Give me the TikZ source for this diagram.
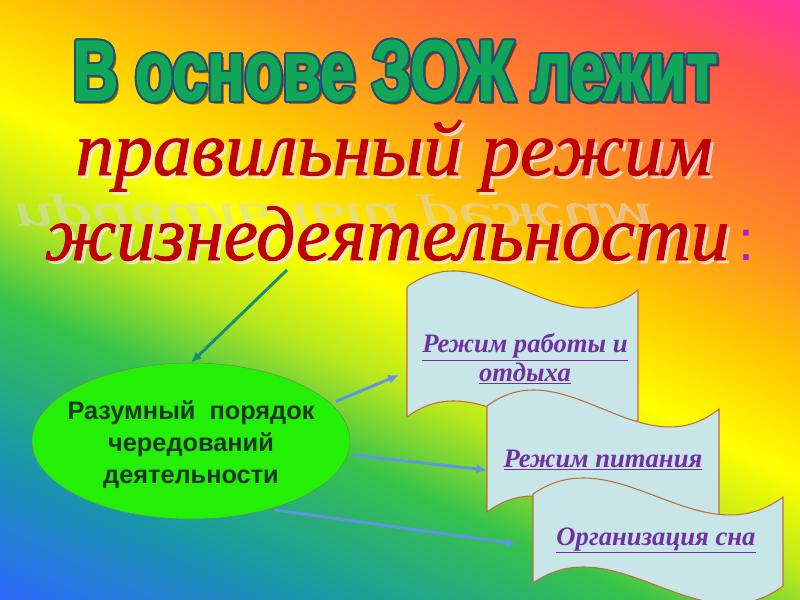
\documentclass[tikz,border=0pt]{standalone}
\usepackage{fontspec}
\setmainfont{Liberation Serif}
\newfontfamily\headfont{Liberation Sans}[FakeStretch=0.73,FakeBold=2]
\newfontfamily\rulefont{Liberation Serif}[FakeBold=1.2]
\newfontfamily\boxfont{Liberation Sans}
\usetikzlibrary{shapes.geometric,arrows.meta}

\definecolor{rbBlue}{RGB}{45,105,255}
\definecolor{rbTeal}{RGB}{25,150,170}
\definecolor{rbGreen}{RGB}{55,195,75}
\definecolor{rbLime}{RGB}{185,232,30}
\definecolor{rbYellow}{RGB}{255,255,0}
\definecolor{rbGold}{RGB}{255,200,0}
\definecolor{rbOrange}{RGB}{255,135,40}
\definecolor{rbRed}{RGB}{255,85,75}
\definecolor{rbPink}{RGB}{255,50,160}
\definecolor{headGreen}{RGB}{18,166,88}
\definecolor{headEdge}{RGB}{31,78,121}
\definecolor{ruleRed}{RGB}{192,0,0}
\definecolor{colonPurple}{RGB}{170,30,200}
\definecolor{ellGreen}{RGB}{35,240,5}
\definecolor{ellEdge}{RGB}{110,140,90}
\definecolor{ellText}{RGB}{25,55,40}
\definecolor{waveFill}{RGB}{200,230,232}
\definecolor{waveEdge}{RGB}{190,110,60}
\definecolor{wavePurple}{RGB}{112,48,160}
\definecolor{linkBlue}{RGB}{95,150,225}
\definecolor{linkTeal}{RGB}{25,140,120}

\pgfdeclarehorizontalshading{rainbow}{100bp}{color(0bp)=(rbBlue); color(25bp)=(rbBlue);
  color(32.5bp)=(rbTeal); color(40.5bp)=(rbGreen); color(45.5bp)=(rbLime);
  color(50.5bp)=(rbYellow); color(56bp)=(rbGold); color(62.5bp)=(rbOrange);
  color(70bp)=(rbRed); color(75bp)=(rbPink); color(100bp)=(rbPink)}

\begin{document}
\begin{tikzpicture}[x=0.75pt,y=0.75pt,
    headline/.style={anchor=base, inner sep=0pt, font=\headfont\bfseries\fontsize{64}{70}\selectfont},
    ruleline/.style={anchor=base, inner sep=0pt, font=\rulefont\itshape\fontsize{58}{64}\selectfont},
    wavetext/.style={inner sep=0pt, text=wavePurple, align=center, font=\bfseries\itshape\fontsize{20}{19}\selectfont},
    ellabel/.style={align=center, text=ellText, yshift=-3pt, font=\boxfont\bfseries\fontsize{19}{24}\selectfont},
    link/.style={-{Latex[length=8pt,width=7pt]}, line width=2.2pt, draw=linkBlue, shorten <=4pt}]
  \useasboundingbox (0,0) rectangle (800,-600);
  % background
  \begin{scope}
    \clip (0,0) rectangle (800,-600);
    \begin{scope}[transform canvas={shift={(400,-300)},rotate=65}]
      \shade[shading=rainbow] (-441,-520) rectangle (441,520);
    \end{scope}
  \end{scope}

  % heading
  \node[headline, text=black, opacity=0.35] at (398,-103) {В основе ЗОЖ лежит};
  \foreach \a in {0,30,...,330}
    \node[headline, text=headEdge] at ({395+2*cos(\a)},{-100+2*sin(\a)}) {В основе ЗОЖ лежит};
  \node[headline, text=headGreen] (head) at (395,-100) {В основе ЗОЖ лежит};

  \node[ruleline, text=gray!30, opacity=0.5, yscale=-0.6, transform shape] (echo) at (333,-204) {правильный режим};
  \node[ruleline, text=gray!15, opacity=0.7] at (397,-178) {правильный режим};
  \node[ruleline, text=ruleRed] (rule1) at (394,-175) {правильный режим};
  \node[ruleline, text=gray!15, opacity=0.7] at (390,-263) {жизнедеятельности};
  \node[ruleline, text=ruleRed] (rule2) at (387,-260) {жизнедеятельности};
  \node[anchor=base, inner sep=0pt, text=colonPurple, font=\boxfont\fontsize{43}{48}\selectfont] (colon) at (746,-260) {:};

  % waves
  \foreach \x/\y/\w/\h in {407/287/231/130, 487/406/232/106, 533/494/250/89}
    \filldraw[draw=waveEdge, fill=waveFill, line width=0.8pt]
      (\x,-\y) .. controls ({\x+\w/3},{-\y+58}) and ({\x+2*\w/3},{-\y-65}) .. ({\x+\w},{-\y-3})
      -- ({\x+\w},{-\y-\h-3}) .. controls ({\x+2*\w/3},{-\y-\h-65}) and ({\x+\w/3},{-\y-\h+58}) .. (\x,{-\y-\h}) -- cycle;
  \node[wavetext] (work) at (525,-359) {\underline{Режим работы и}\\\underline{отдыха}};
  \node[wavetext, anchor=base] (food) at (603,-467) {\underline{Режим питания}};
  \node[wavetext, anchor=base] (sleep) at (656,-545) {\underline{Организация сна}};

  % ellipse
  \node[ellipse, draw=ellEdge, fill=ellGreen, minimum width=238.5pt, minimum height=117pt,
        label={[ellabel]center:Разумный \ порядок\\чередований\\деятельности}] (ell) at (191,-441) {};

  \coordinate (ruledrop) at (287,-270);
  \coordinate (workin) at (399,-375);
  \coordinate (foodin) at (487,-470);
  \coordinate (sleepin) at (517,-544);
  \draw[link, draw=linkTeal, shorten <=0pt] (ruledrop) -- (ell.north);
  \draw[link] (ell.15) -- (workin);
  \draw[link] (ell.-5) -- (foodin);
  \draw[link] (ell.-41) -- (sleepin);
\end{tikzpicture}
\end{document}
